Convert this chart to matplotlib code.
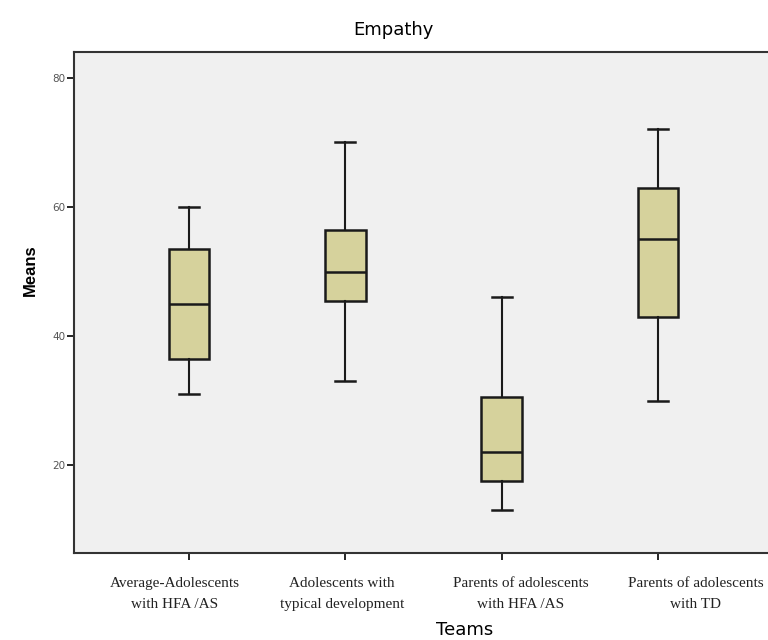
import matplotlib
matplotlib.use('Agg')
import matplotlib.pyplot as plt
from matplotlib import rcParams
rcParams['font.family'] = ['DejaVu Sans']

# group labels and box statistics
teams = ['Average-Adolescents\nwith HFA /AS',
         'Adolescents with\ntypical development',
         'Parents of adolescents\nwith HFA /AS',
         'Parents of adolescents\nwith TD']
whislo = [31, 33, 13, 30]
q1 = [36.5, 45.5, 17.5, 43]
med = [45, 50, 22, 55]
q3 = [53.5, 56.5, 30.5, 63]
whishi = [60, 70, 46, 72]

# the labels sit a little off their ticks in the original
label_pos = [-0.09, 0.98, 2.12, 3.24]

stats = []
for i in range(len(teams)):
    stats.append({'whislo': whislo[i], 'q1': q1[i], 'med': med[i],
                  'q3': q3[i], 'whishi': whishi[i], 'fliers': []})

fig = plt.figure(figsize=(7.68, 6.4), dpi=100)
ax = fig.add_axes([74 / 768, 1 - 553 / 640, 699 / 768, 501 / 640])
ax.set_facecolor('#f0f0f0')

ax.bxp(stats, positions=range(len(teams)), widths=0.26, patch_artist=True,
       boxprops=dict(facecolor='#d6d29c', edgecolor='#1a1a1a', linewidth=1.8),
       medianprops=dict(color='#1a1a1a', linewidth=1.8),
       whiskerprops=dict(color='#1a1a1a', linewidth=1.5),
       capprops=dict(color='#1a1a1a', linewidth=1.8),
       capwidths=0.13)

ax.set_xlim(-0.735, 3.735)
ax.set_ylim(6.4, 84)
ax.set_yticks([20, 40, 60, 80])
ax.tick_params(axis='y', labelsize=7.5, labelcolor='#555555', length=5,
               width=1.2, pad=1)
ax.set_xticks(range(len(teams)))
ax.set_xticklabels([])
ax.tick_params(axis='x', which='major', length=5, width=1.2)
ax.set_xticks(label_pos, minor=True)
ax.set_xticklabels(teams, minor=True, fontfamily='Liberation Serif',
                   fontsize=11, linespacing=1.85, color='#222222')
ax.tick_params(axis='x', which='minor', length=0, pad=17)

for s in ax.spines.values():
    s.set_linewidth(1.5)
    s.set_color('#333333')

ax.set_ylabel('Means', fontsize=12, fontweight='bold',
              family=['Liberation Sans', 'DejaVu Sans'])
ax.yaxis.set_label_coords(-0.052, 0.565)
ax.set_xlabel('Teams', fontsize=13)
ax.xaxis.set_label_coords((465 - 74) / 699, -0.135)
fig.text(393 / 768, 1 - 30 / 640, 'Empathy', ha='center', va='center',
         fontsize=13, fontweight='medium')

fig.savefig('out.png', dpi=100)
